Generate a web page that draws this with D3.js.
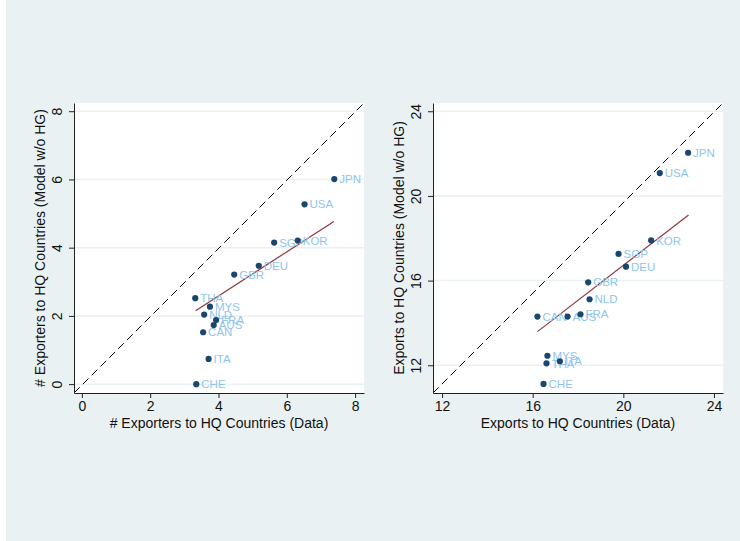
<!DOCTYPE html>
<html>
<head>
<meta charset="utf-8">
<script src="https://d3js.org/d3.v7.min.js"></script>
<style>
  body { margin: 0; background: #fff; }
  svg text { font-family: "Liberation Sans", Arial, sans-serif; }
</style>
</head>
<body>
<script>
// country labels, same order in both panels
var countries = ["JPN","USA","SGP","KOR","DEU","GBR","THA","MYS","NLD","FRA","AUS","CAN","ITA","CHE"];

// left panel: # exporters
var leftX = [7.39,6.52,5.63,6.32,5.18,4.46,3.32,3.75,3.58,3.93,3.86,3.55,3.71,3.35];
var leftY = [6.01,5.27,4.15,4.21,3.47,3.21,2.52,2.27,2.04,1.88,1.73,1.52,0.74,0.00];
var leftFitX = [3.33, 7.38];
var leftFitY = [2.15, 4.77];
var leftTicks = [0, 2, 4, 6, 8];
var leftXRange = [-0.23, 8.26];
var leftYRange = [-0.26, 8.24];

// right panel: exports
var rightX = [22.86,21.61,19.79,21.23,20.12,18.45,16.61,16.65,18.51,18.11,17.54,16.21,17.20,16.48];
var rightY = [22.04,21.08,17.26,17.90,16.66,15.92,12.09,12.45,15.12,14.41,14.30,14.30,12.19,11.12];
var rightFitX = [16.21, 22.88];
var rightFitY = [13.59, 19.10];
var rightTicks = [12, 16, 20, 24];
var rightXRange = [11.6, 24.4];
var rightYRange = [10.69, 24.39];

var W = 740, H = 541;
var bg = "#e9f1f3";

var svg = d3.select("body").append("svg")
  .attr("width", W).attr("height", H);

svg.append("rect").attr("x", 6).attr("y", 0)
  .attr("width", W - 6).attr("height", H).attr("fill", bg);

function panel(left, xs, ys, fitX, fitY, ticks, xr, yr, xTitle, yTitle) {
  var top = 103, size = 290;
  var x = d3.scaleLinear().domain(xr).range([left, left + size]);
  var y = d3.scaleLinear().domain(yr).range([top + size, top]);
  var g = svg.append("g");

  g.append("rect").attr("x", left).attr("y", top)
    .attr("width", size).attr("height", size).attr("fill", "#fff");

  // grid
  g.selectAll(".grid").data(ticks).enter().append("line")
    .attr("x1", left).attr("x2", left + size)
    .attr("y1", function(d) { return y(d); })
    .attr("y2", function(d) { return y(d); })
    .attr("stroke", bg).attr("stroke-width", 1.5);

  // 45 degree reference
  g.append("line")
    .attr("x1", x(xr[0])).attr("y1", y(yr[0]))
    .attr("x2", x(xr[1])).attr("y2", y(yr[1]))
    .attr("stroke", "#000").attr("stroke-width", 1)
    .attr("stroke-dasharray", "8,4.5");

  // fitted line
  g.append("line")
    .attr("x1", x(fitX[0])).attr("y1", y(fitY[0]))
    .attr("x2", x(fitX[1])).attr("y2", y(fitY[1]))
    .attr("stroke", "#90353b").attr("stroke-width", 1.2);

  var pts = countries.map(function(c, i) { return {name: c, x: xs[i], y: ys[i]}; });

  g.selectAll(".lab").data(pts).enter().append("text")
    .attr("x", function(d) { return x(d.x) + 5; })
    .attr("y", function(d) { return y(d.y); })
    .attr("dy", "0.36em")
    .attr("font-size", 11.5)
    .attr("fill", "#90c4ec")
    .text(function(d) { return d.name; });

  g.selectAll(".dot").data(pts).enter().append("circle")
    .attr("cx", function(d) { return x(d.x); })
    .attr("cy", function(d) { return y(d.y); })
    .attr("r", 3.1)
    .attr("fill", "#1a476f");

  var xa = g.append("g").attr("transform", "translate(0," + (top + size) + ")")
    .call(d3.axisBottom(x).tickValues(ticks).tickSize(5).tickSizeOuter(0).tickPadding(3));
  var ya = g.append("g").attr("transform", "translate(" + left + ",0)")
    .call(d3.axisLeft(y).tickValues(ticks).tickSize(5).tickSizeOuter(0).tickPadding(7));

  [xa, ya].forEach(function(a) {
    a.select(".domain").attr("stroke", "#222");
    a.selectAll(".tick line").attr("stroke", "#222");
    a.selectAll("text").attr("font-size", 14).attr("fill", "#111")
      .attr("font-family", "Liberation Sans, Arial, sans-serif");
  });
  // rotate y tick labels
  ya.selectAll(".tick text")
    .attr("transform", "rotate(-90)")
    .attr("x", 0).attr("y", -12).attr("dy", 0)
    .attr("text-anchor", "middle");

  g.append("text")
    .attr("x", left + size / 2).attr("y", 427.5)
    .attr("text-anchor", "middle").attr("font-size", 14).attr("fill", "#111")
    .text(xTitle);

  g.append("text")
    .attr("transform", "translate(" + (left - 29) + "," + (top + size / 2) + ") rotate(-90)")
    .attr("text-anchor", "middle").attr("font-size", 14).attr("fill", "#111")
    .text(yTitle);
}

panel(74, leftX, leftY, leftFitX, leftFitY, leftTicks, leftXRange, leftYRange,
  "# Exporters to HQ Countries (Data)", "# Exporters to HQ Countries (Model w/o HG)");
panel(433, rightX, rightY, rightFitX, rightFitY, rightTicks, rightXRange, rightYRange,
  "Exports to HQ Countries (Data)", "Exports to HQ Countries (Model w/o HG)");
</script>
</body>
</html>
